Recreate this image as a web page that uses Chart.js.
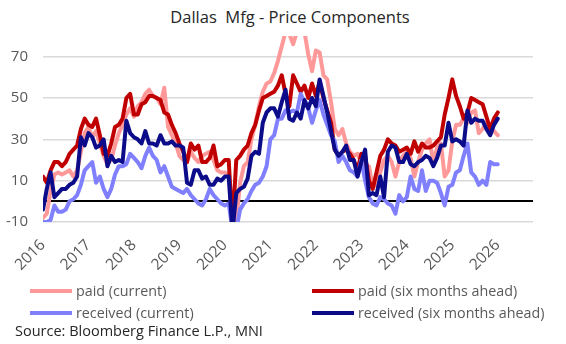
<!DOCTYPE html>
<html>
<head>
<meta charset="utf-8">
<title>Dallas Mfg - Price Components</title>
<script src="https://cdn.jsdelivr.net/npm/chart.js@4"></script>
<style>
  body { margin: 0; background: #fff; font-family: "Open Sans", sans-serif; }
  #box { position: relative; width: 566px; height: 344px; overflow: hidden; }
  #title { position: absolute; top: 5px; left: 7px; width: 566px; text-align: center;
           font-size: 16.5px; color: #262626; white-space: pre; }
  canvas { position: absolute; left: 0; top: 0; }
  .item { position: absolute; font-size: 14.3px; color: #595959; white-space: nowrap; line-height: 18px; }
  .item span.swatch { position: absolute; left: -46px; top: 7px; width: 42px; height: 4px; }
  #source { position: absolute; left: 15px; top: 321px; font-size: 14.5px; color: #262626; white-space: nowrap; }
</style>
</head>
<body>
<div id="box">
  <div id="title">Dallas  Mfg - Price Components</div>
  <canvas id="chart" width="566" height="344"></canvas>
  <div id="legend"></div>
  <div id="source">Source: Bloomberg Finance L.P., MNI</div>
</div>
<script>
// monthly readings, Jan 2016 .. Jan 2026
const yearLabels = ['2016','2017','2018','2019','2020','2021','2022','2023','2024','2025','2026'];
const yTicks = [-10, 0, 10, 30, 50, 70];

const paidCurrent = [
  -8,-6,5,13,14,13,14,15,12,15,24,33,
  36,31,34,28,22,18,20,27,33,37,42,45,
  41,46,48,52,54,51,50,47,55,36,32,28,
  22,20,19,24,21,19,22,23,24,20,15,14,
  14,13,-12,-10,9,17,19,30,37,46,53,57,
  58,62,68,75,82,81,76,82,83,82,71,63,
  73,72,61,59,48,35,32,35,28,24,22,23,
  19,17,17,7,8,14,20,22,19,12,19,22,
  24,21,12,19,25,28,30,19,26,28,12,15,
  29,37,37,40,38,43,44,33,35,38,33,34,
  32
];
const paidSixMonths = [
  12,9,15,19,19,17,19,23,25,27,35,40,
  37,36,40,32,23,22,28,36,37,40,50,52,
  42,42,47,48,51,51,50,49,43,42,37,33,
  28,24,19,28,25,27,19,19,21,27,17,18,
  20,20,-12,20,22,25,27,33,37,44,50,51,
  52,53,56,61,52,46,61,57,53,56,50,57,
  51,58,50,44,38,25,22,24,25,23,20,15,
  23,22,10,6,14,22,25,30,28,27,24,25,
  26,23,29,24,28,26,26,27,29,31,42,50,
  59,51,46,40,43,50,49,48,47,41,35,40,
  43
];
const receivedCurrent = [
  -10,-10,-9,-2,-5,-5,-4,0,1,3,8,15,
  17,19,9,12,6,2,6,13,17,17,18,23,
  21,19,16,22,26,22,20,14,17,12,7,6,
  5,4,6,3,1,-1,-2,1,6,3,1,-1,
  -2,-1,-14,-14,-4,-1,1,5,8,9,12,17,
  30,32,40,40,44,43,44,43,52,48,45,38,
  44,49,42,37,32,29,19,22,19,15,14,12,
  20,10,2,-1,-2,2,1,-1,-2,-6,3,0,
  2,12,6,5,15,5,10,10,9,4,-2,7,
  8,14,15,22,28,14,12,8,10,8,19,18,
  18
];
const receivedSixMonths = [
  -4,6,14,2,4,6,6,8,9,12,31,27,
  33,31,26,27,30,17,22,19,20,19,39,33,
  31,30,28,34,28,28,27,32,28,28,29,27,
  27,26,9,8,15,15,11,12,8,8,11,10,
  12,12,-15,4,6,7,11,22,24,23,38,43,
  45,45,41,48,54,40,39,43,40,49,45,50,
  46,59,51,43,34,25,22,24,27,20,20,12,
  19,25,3,4,3,12,2,24,27,26,19,19,
  23,18,17,19,20,22,21,17,21,27,27,38,
  29,30,29,27,44,38,40,39,39,35,32,37,
  40
];

const seriesNames = ['paid (current)', 'paid (six months ahead)', 'received (current)', 'received (six months ahead)'];
const seriesColors = ['#ff9999', '#c00000', '#8080ff', '#0c0c8a'];
const seriesValues = [paidCurrent, paidSixMonths, receivedCurrent, receivedSixMonths];

const family = '"Open Sans", sans-serif';

const datasets = seriesValues.map((vals, k) => ({
  label: seriesNames[k],
  data: vals.map((v, i) => ({ x: i, y: v })),
  borderColor: seriesColors[k],
  borderWidth: 4,
  pointRadius: 0,
  tension: 0,
  borderJoinStyle: 'round',
  borderCapStyle: 'round',
  order: 4 - k
}));

new Chart(document.getElementById('chart'), {
  type: 'line',
  data: { datasets },
  options: {
    responsive: false,
    animation: false,
    layout: { padding: { top: 36, right: 33, bottom: 72, left: 0 } },
    plugins: { legend: { display: false }, tooltip: { enabled: false } },
    scales: {
      x: {
        type: 'linear', min: 0, max: 129.3,
        grid: { display: false, drawTicks: false },
        border: { display: false },
        afterBuildTicks: s => { s.ticks = yearLabels.map((_, i) => ({ value: i * 12 })); },
        afterFit: s => { s.height = 50; s.paddingLeft = 0; s.paddingRight = 0; },
        ticks: {
          autoSkip: false, minRotation: 45, maxRotation: 45, padding: 14,
          color: '#595959', font: { size: 15.5, family },
          callback: (v, i) => yearLabels[i]
        }
      },
      y: {
        min: -10, max: 80,
        afterBuildTicks: s => { s.ticks = yTicks.map(v => ({ value: v })); },
        afterFit: s => { s.width = 43; },
        grid: {
          drawTicks: false,
          color: c => c.tick.value === 0 ? '#000' : '#d9d9d9',
          lineWidth: c => c.tick.value === 0 ? 2 : 1.5
        },
        border: { display: false },
        ticks: {
          padding: 15, color: '#595959', font: { size: 15, family },
          callback: v => v === 0 ? '' : v
        }
      }
    }
  }
});

// legend, two columns
const legendPos = [[76, 282], [358, 282], [76, 304], [358, 304]];
const legend = document.getElementById('legend');
seriesNames.forEach((name, k) => {
  const el = document.createElement('div');
  el.className = 'item';
  el.style.left = legendPos[k][0] + 'px';
  el.style.top = legendPos[k][1] + 'px';
  el.innerHTML = '<span class="swatch" style="background:' + seriesColors[k] + '"></span>' + name;
  legend.appendChild(el);
});
</script>
</body>
</html>
